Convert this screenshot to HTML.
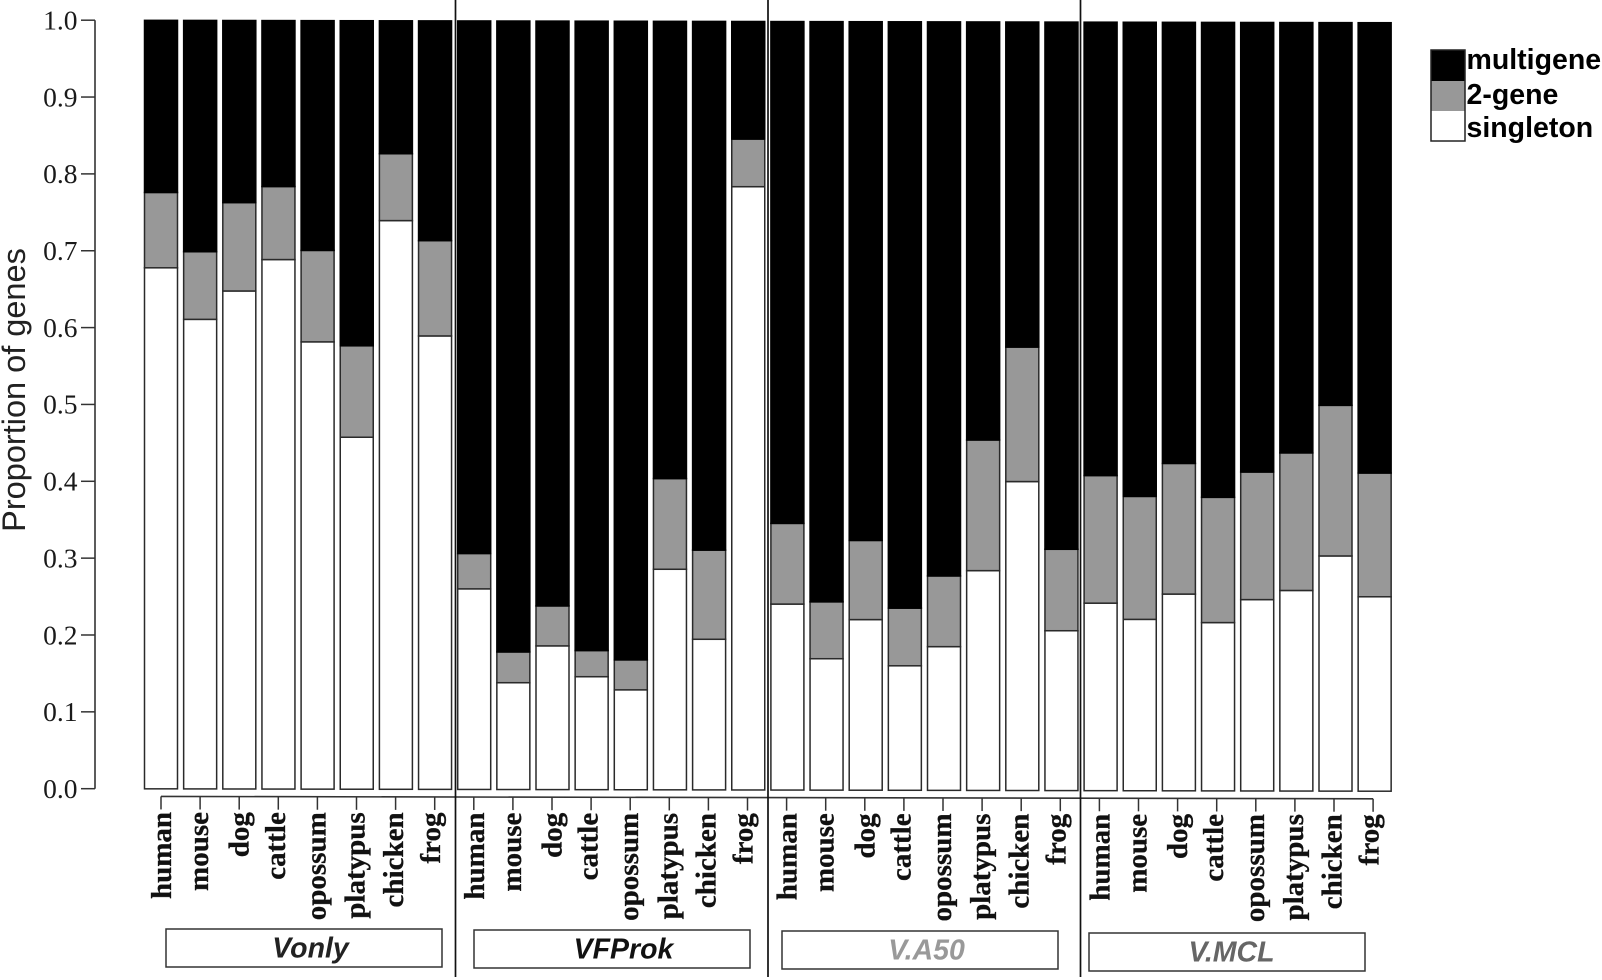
<!DOCTYPE html>
<html lang="en">
<head>
<meta charset="utf-8">
<title>Proportion of genes by family size</title>
<style>
html,body{margin:0;padding:0;background:#fff;width:1602px;height:980px;overflow:hidden}
svg{display:block;filter:blur(0.35px)}
.serif{font-family:"Liberation Serif",serif}
.sans{font-family:"Liberation Sans",sans-serif}
</style>
</head>
<body>
<svg id="chart" xmlns="http://www.w3.org/2000/svg" width="1602" height="980" viewBox="0 0 1602 980">
  <rect x="0" y="0" width="1602" height="980" fill="#fff"/>
  <text class="sans" font-size="32.5" fill="#222" text-anchor="middle" transform="translate(25,390) rotate(-90)">Proportion of genes</text>
  <g>
    <rect x="1431" y="50" width="34" height="31" fill="#000"/>
    <rect x="1431" y="81" width="34" height="30" fill="#989898"/>
    <rect x="1431" y="111" width="34" height="30" fill="#fff"/>
    <rect x="1431" y="50" width="34" height="91" fill="none" stroke="#222" stroke-width="1.5"/>
    <text class="sans" font-size="28.5" font-weight="700" fill="#000" x="1466.5" y="69">multigene</text>
    <text class="sans" font-size="28.5" font-weight="700" fill="#000" x="1466.5" y="104">2-gene</text>
    <text class="sans" font-size="28.5" font-weight="700" fill="#000" x="1466.5" y="137">singleton</text>
  </g>
  <g id="marks"></g>
</svg>
<script>
const species = ["human","mouse","dog","cattle","opossum","platypus","chicken","frog"];
const groupNames = ["Vonly","VFProk","V.A50","V.MCL"];
const yTickValues = [0,0.1,0.2,0.3,0.4,0.5,0.6,0.7,0.8,0.9,1.0];
const yTickLabels = ["0.0","0.1","0.2","0.3","0.4","0.5","0.6","0.7","0.8","0.9","1.0"];

const singleton = [
  0.678,0.611,0.648,0.689,0.582,0.458,0.740,0.590,
  0.261,0.139,0.187,0.147,0.130,0.287,0.196,0.785,
  0.242,0.171,0.222,0.162,0.187,0.286,0.402,0.208,
  0.244,0.223,0.256,0.219,0.249,0.261,0.306,0.253
];
const twoGene = [
  0.098,0.088,0.115,0.095,0.119,0.119,0.087,0.124,
  0.046,0.040,0.052,0.034,0.039,0.118,0.116,0.062,
  0.105,0.074,0.103,0.075,0.092,0.170,0.175,0.106,
  0.166,0.160,0.170,0.163,0.166,0.179,0.196,0.161
];
const multigene = [
  0.224,0.301,0.237,0.216,0.299,0.423,0.173,0.286,
  0.693,0.821,0.761,0.819,0.831,0.595,0.688,0.153,
  0.653,0.755,0.675,0.763,0.721,0.544,0.423,0.686,
  0.590,0.617,0.574,0.618,0.585,0.560,0.498,0.586
];

const NS = "http://www.w3.org/2000/svg";
const root = document.getElementById("marks");
const STROKE = "#2a2a2a";

// Axis functions (the scanned figure is rotated very slightly, hence skew)
function skew(x){ return 0.00195 * x - 0.28; }
function yScale(v){ return 788.8 - v * 768.5; }
function barLeft(i){ return 144.5 + i * 39.15; }
const BAR_W = 33;
function tickX(i){ return 161 + i * 39.1; }
// The tick sits at the centre of each word's ink, so the baseline offset varies per word.
function labelBaselineOffset(word){
  switch (word) {
    case "human": return 10;
    case "mouse": return 8;
    case "dog": return 9.5;
    case "cattle": return 6.5;
    case "opossum": return 8;
    case "platypus": return 8;
    case "chicken": return 7.3;
    default: return 5.2;
  }
}

function make(tag, attrs, parent){
  const el = document.createElementNS(NS, tag);
  for (const k in attrs) el.setAttribute(k, attrs[k]);
  (parent || root).appendChild(el);
  return el;
}

// Y axis
const yAxis = make("g", {});


const yLine = make("line", {x1:95, x2:95, y1:yScale(1)+skew(95), y2:yScale(0)+skew(95), stroke:"#333", "stroke-width":1.6}, yAxis);


yTickValues.forEach(function(v, i){
  const y = yScale(v) + skew(88);
  const t = make("line", {x1:81, x2:95, y1:y, y2:y, stroke:"#333", "stroke-width":1.5}, yAxis);
  
  
  const lab = make("text", {x:77.5, y:y+9.3, "text-anchor":"end", "font-size":27.5, fill:"#1a1a1a", class:"serif"}, yAxis);
  
  
  lab.textContent = yTickLabels[i];
});

// Stacked bars
const barsGroup = make("g", {});


singleton.forEach(function(s, i){
  const x = barLeft(i);
  const off = skew(x + BAR_W / 2);
  const t = twoGene[i];
  const m = multigene[i];
  const bar = make("g", {}, barsGroup);
  
  
  const r1 = make("rect", {x:x, width:BAR_W, y:yScale(s)+off, height:yScale(0)-yScale(s), fill:"#fff", stroke:STROKE, "stroke-width":1.5}, bar);
  
  
  const r2 = make("rect", {x:x, width:BAR_W, y:yScale(s+t)+off, height:yScale(s)-yScale(s+t), fill:"#989898", stroke:STROKE, "stroke-width":1.5}, bar);
  
  
  const r3 = make("rect", {x:x, width:BAR_W, y:yScale(s+t+m)+off, height:yScale(s+t)-yScale(s+t+m), fill:"#000", stroke:"#000", "stroke-width":1.5}, bar);
  
  
});

// X axis
const xAxis = make("g", {});


const lastTick = singleton.length - 1;
const xLine = make("line", {x1:tickX(0), x2:tickX(lastTick), y1:796.4+skew(tickX(0)), y2:796.4+skew(tickX(lastTick)), stroke:"#333", "stroke-width":1.6}, xAxis);


singleton.forEach(function(_, i){
  const x = tickX(i);
  const base = 796.4 + skew(x);
  const word = species[i % species.length];
  const tick = make("line", {x1:x, x2:x, y1:base, y2:base+13, stroke:"#333", "stroke-width":1.5}, xAxis);
  
  
  const lab = make("text", {"text-anchor":"end", "font-size":29, "font-weight":700, fill:"#111", stroke:"#111", "stroke-width":0.3, class:"serif",
    transform:"translate(" + (x + labelBaselineOffset(word)) + "," + (base + 15.5) + ") rotate(-90)"}, xAxis);
  
  
  lab.textContent = word;
});

// Group separators
[455.5, 768, 1080.5].forEach(function(x){
  const sep = make("line", {x1:x, x2:x, y1:0, y2:977, stroke:"#111", "stroke-width":1.7});
  
  
});

// Group label boxes
const boxColors = ["#222","#111","#999","#666"];
const boxTextNudge = [6, 11, 6, 4];
[[166,929],[474,930],[782,931],[1089,933]].forEach(function(p, i){
  const g = make("g", {});
  
  
  const box = make("rect", {x:p[0], y:p[1], width:276, height:38, fill:"#fff", stroke:"#333", "stroke-width":1.5}, g);
  
  
  const tx = make("text", {x:p[0]+138.5+boxTextNudge[i], y:p[1]+28.5, "text-anchor":"middle", "font-size":28.5, "font-weight":700, "font-style":"italic", fill:boxColors[i], class:"sans"}, g);
  
  
  tx.textContent = groupNames[i];
});
</script>
</body>
</html>
